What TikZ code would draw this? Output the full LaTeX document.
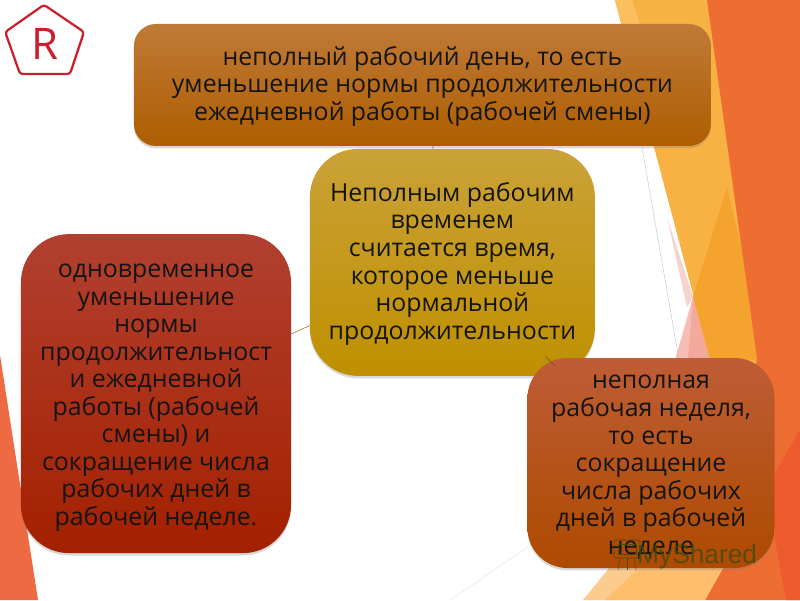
\documentclass[tikz,border=0pt]{standalone}
\usepackage{fontspec}
\setmainfont{Open Sans}
\newfontfamily\markfont{Liberation Sans}
\usetikzlibrary{shadows}
\definecolor{sunny}{HTML}{F8B143}
\definecolor{pale}{HTML}{FAC05F}
\definecolor{amber}{HTML}{F4A42E}
\definecolor{flame}{HTML}{EE6D32}
\definecolor{ember}{HTML}{EC5A2E}
\definecolor{sand}{HTML}{FCCB8E}
\definecolor{peach}{HTML}{FFBE6C}
\definecolor{blush}{HTML}{F6D3CD}
\definecolor{mauve}{HTML}{F6BDB4}
\definecolor{rose}{HTML}{F3A99B}
\definecolor{wedge}{HTML}{EE6A42}
\definecolor{logored}{HTML}{C8202F}
\definecolor{markgreen}{HTML}{3A4A10}
\newcommand{\firstline}{\rule{0pt}{15.5pt}}
\tikzset{
    stepbox/.style={align=center, inner sep=0pt, font=\fontsize{17.7}{19.6}\selectfont, text=black!92, drop shadow={shadow xshift=0pt, shadow yshift=-0.06cm, opacity=0.3}},
    link/.style={thin, draw=#1}
}

\begin{document}
\begin{tikzpicture}
    \useasboundingbox (0, 0) rectangle (20, 15);
    \fill [white] (0, 0) rectangle (20, 15);

    % background
    \fill [sunny] (15.375, 15) -- (18, 15) -- (19.25, 5) -- (17.5, 5) -- (17.75, 6.05) -- cycle;
    \fill [pale] (15.375, 15) -- (15.8, 15) -- (16, 14.4) -- (15.525, 14.4) -- cycle;
    \fill [blush] (16.675, 9.575) -- (17.325, 7.575) -- (17.175, 7.325) -- cycle;
    \fill [mauve] (17.325, 7.575) -- (16.875, 6) -- (17.75, 6) -- cycle;
    \fill [rose] (17.325, 7.575) -- (17.2, 6) -- (17.75, 6) -- cycle;
    \fill [amber] (18.175, 10.325) -- (19.2, 6) -- (17.75, 6) -- (17.325, 7.575) -- cycle;
    \fill [flame] (17.675, 15) -- (20, 15) -- (20, 0) -- (17.625, 0) -- (18.075, 0.8) -- (18.925, 6.05) -- cycle;
    \fill [ember] (20, 4.25) -- (19.375, 3.175) -- (19.375, 1.5) -- (19.65, 0) -- (20, 0) -- cycle;
    \fill [sand] (14.575, 0) -- (15.25, 0.825) -- (18.075, 0.825) -- (17.625, 0) -- cycle;
    \fill [peach] (15.125, 0) -- (16, 0.825) -- (18.075, 0.825) -- (17.625, 0) -- cycle;
    \fill [wedge] (0, 6.125) -- (0, 0) -- (0.95, 0) -- cycle;
    \draw [gray!60, very thin] (16.05, 11.325) -- (16.975, 6);
    \draw [gray!30, very thin] (13.2, 1.325) -- (11.25, 0);

    % logo
    \draw [logored, line width=1.6pt, rounded corners=2pt] (1.1, 14.88) -- (2.1, 14.2) -- (1.75, 13.15) -- (0.5, 13.15) -- (0.13, 14.2) -- cycle;
    \node (logo) [text=logored, font=\fontsize{31}{31}\selectfont] at (1.12, 13.9) {R};

    % boxes
    \node (top) [stepbox, rounded corners=0.55cm, minimum width=14.425cm, minimum height=3.05cm, top color={rgb,255:red,192;green,122;blue,56}, bottom color={rgb,255:red,174;green,94;blue,0}] at (10.56, 12.875) {\firstline неполный рабочий день, то есть\\уменьшение нормы продолжительности\\ежедневной работы (рабочей смены)};
    \node (center) [stepbox, rounded corners=1.2cm, minimum width=7.125cm, minimum height=5.675cm, top color={rgb,255:red,202;green,162;blue,56}, bottom color={rgb,255:red,191;green,144;blue,0}] at (11.31, 8.44) {\firstline Неполным рабочим\\временем\\считается время,\\которое меньше\\нормальной\\продолжительности};
    \node (left) [stepbox, rounded corners=1.2cm, minimum width=6.75cm, minimum height=7.975cm, top color={rgb,255:red,178;green,64;blue,48}, bottom color={rgb,255:red,163;green,32;blue,0}] at (3.9, 5.16) {\firstline одновременное\\уменьшение\\нормы\\продолжительност\\и ежедневной\\работы (рабочей\\смены) и\\сокращение числа\\рабочих дней в\\рабочей неделе.};
    \node (right) [stepbox, rounded corners=1cm, minimum width=6.175cm, minimum height=5.25cm, top color={rgb,255:red,190;green,93;blue,54}, bottom color={rgb,255:red,174;green,74;blue,0}] at (16.275, 3.425) {\firstline неполная\\рабочая неделя,\\то есть\\сокращение\\числа рабочих\\дней в рабочей\\неделе};

    % watermark
    \node (share) [text=markgreen, opacity=0.75, font=\markfont\fontsize{18.7}{19}\selectfont, anchor=base east] at (19.05, 0.925) {MyShared};
    \draw [markgreen, opacity=0.8, rounded corners=1pt] (15.35, 1.5) rectangle (16, 1.05);
    \draw [markgreen, opacity=0.8] (15.45, 1.4) rectangle (15.9, 1.15);
    \draw [markgreen, opacity=0.8] (15.5, 1.05) -- (15.45, 0.75);
    \draw [markgreen, opacity=0.8] (15.68, 1.05) -- (15.68, 0.75);
    \draw [markgreen, opacity=0.8] (15.85, 1.05) -- (15.9, 0.75);

    % connectors
    \draw [link=brown!60!black] (center) -- (top);
    \draw [link=brown!80!black] (center) -- (left);
    \draw [link=brown!60!black, shorten <=3.32cm, shorten >=3.4cm] (center.center) -- (right.center);
\end{tikzpicture}
\end{document}
